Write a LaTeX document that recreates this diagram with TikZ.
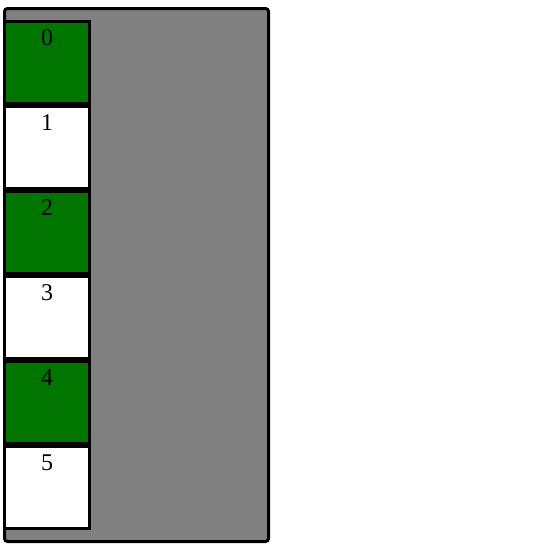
\documentclass[tikz,border=0pt]{standalone}
\usepackage{fontspec}
\setmainfont{Liberation Serif}
\usetikzlibrary{positioning}
\definecolor{slotgreen}{RGB}{0,118,0}
\definecolor{panelgray}{RGB}{128,128,128}
\tikzstyle{panel} = [draw=black, fill=panelgray, line width=3pt, rounded corners=3pt, minimum width=264pt, minimum height=533pt, inner sep=0pt]
\tikzstyle{slot} = [draw=black, fill=white, line width=3pt, minimum width=85pt, minimum height=82pt, inner sep=0pt]
\tikzstyle{busy} = [slot, fill=slotgreen]
\tikzstyle{num} = [anchor=base, inner sep=0pt, font=\fontsize{24}{28}\selectfont]

\begin{document}
\begin{tikzpicture}[x=1pt, y=-1pt]
            \useasboundingbox (0,0) rectangle (537,552);
            \node[panel] (panel) at (136.5,275) {};
            
            % slots, green = taken
            \node[busy] (s0) at (47,62.5) {};
            \node[slot] (s1) at (47,147.5) {};
            \node[busy] (s2) at (47,232.5) {};
            \node[slot] (s3) at (47,317.5) {};
            \node[busy] (s4) at (47,402.5) {};
            \node[slot] (s5) at (47,487.5) {};
            
            \foreach \i in {0,...,5}
                \node[num] (n\i) at ([yshift=-25pt]s\i.north) {\i};
\end{tikzpicture}
\end{document}
